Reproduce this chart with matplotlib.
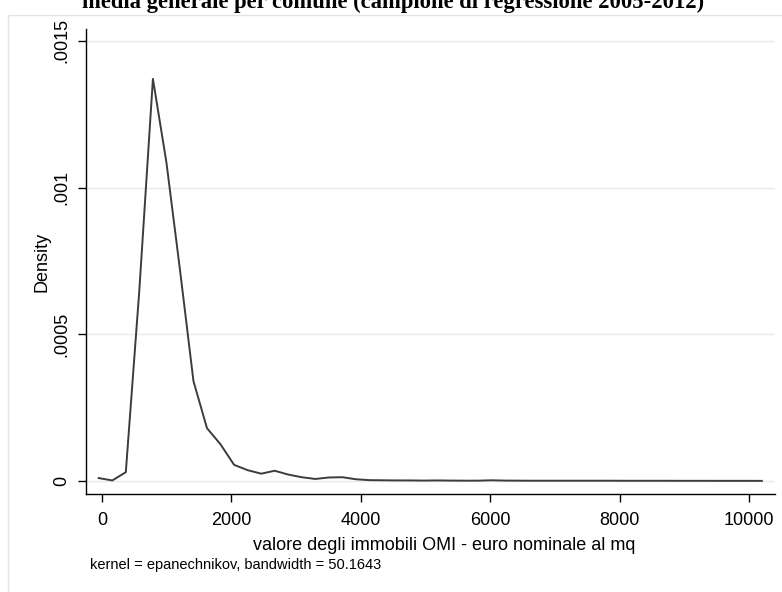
import matplotlib
matplotlib.use("Agg")
import matplotlib.pyplot as plt
from matplotlib.patches import Rectangle

plt.rcParams['font.family'] = ['Liberation Sans', 'DejaVu Sans']

# punti della stima kernel (50 punti, come kdensity)
valore = [-50, 159, 368, 577, 787, 996, 1205, 1414, 1623, 1832,
          2042, 2251, 2460, 2669, 2878, 3087, 3297, 3506, 3715, 3924,
          4133, 4342, 4552, 4761, 4970, 5179, 5388, 5597, 5807, 6016,
          6225, 6434, 6643, 6852, 7062, 7271, 7480, 7689, 7898, 8107,
          8317, 8526, 8735, 8944, 9153, 9362, 9572, 9781, 9990, 10199]
densita = [10e-6, 2e-6, 30e-6, 650e-6, 1370e-6, 1085e-6, 720e-6, 340e-6, 180e-6, 125e-6,
           55e-6, 37e-6, 25e-6, 35e-6, 22e-6, 13e-6, 7e-6, 12e-6, 13e-6, 6e-6,
           3e-6, 2.5e-6, 2e-6, 2e-6, 1.5e-6, 2e-6, 1.5e-6, 1.2e-6, 1.2e-6, 2.5e-6,
           1.5e-6, 1.2e-6, 1e-6, 1e-6, 1e-6, 1e-6, 1e-6, 1e-6, 1e-6, 0.8e-6,
           0.8e-6, 0.8e-6, 0.8e-6, 0.7e-6, 0.7e-6, 0.7e-6, 0.6e-6, 0.6e-6, 0.6e-6, 0.5e-6]

xticks = [0, 2000, 4000, 6000, 8000, 10000]
yticks = [0, 0.0005, 0.001, 0.0015]
ylabels = ['0', '.0005', '.001', '.0015']

fig = plt.figure(figsize=(7.82, 5.92), dpi=100)
fig.patches.append(Rectangle((8 / 782, -0.1), 1.2, 1 - 15 / 592 + 0.1,
                             transform=fig.transFigure, fill=False,
                             edgecolor='#e4e4e4', linewidth=1))

ax = fig.add_axes([0.110, 0.1655, 0.881, 0.7855])
ax.plot(valore, densita, color='#3c3c3c', linewidth=1.4)

ax.set_xlim(-247, 10402)
ax.set_ylim(-0.0000443, 0.00154)
ax.set_xticks(xticks)
ax.set_yticks(yticks)
ax.set_yticklabels(ylabels, rotation=90, va='center')
ax.tick_params(axis='both', labelsize=13, length=6, width=1, color='black')
ax.tick_params(axis='y', pad=5)
ax.tick_params(axis='x', pad=7)
ax.grid(axis='y', color='#eaeaea', linewidth=1)
ax.set_axisbelow(True)
for s in ['top', 'right']:
    ax.spines[s].set_visible(False)
ax.spines['left'].set_linewidth(1)
ax.spines['bottom'].set_linewidth(1)

ax.set_ylabel('Density', fontsize=13, labelpad=2)
ax.set_xlabel('valore degli immobili OMI - euro nominale al mq', fontsize=13, labelpad=4)
ax.xaxis.set_label_coords(0.52, -0.092)

fig.text(90 / 782, 1 - 565 / 592, 'kernel = epanechnikov, bandwidth = 50.1643',
         fontsize=10.5, va='center', ha='left')
fig.text(0.503, 1 - 8 / 592, 'media generale per comune (campione di regressione 2005-2012)',
         fontsize=16.3, fontweight='bold', family=['Liberation Serif', 'DejaVu Serif'],
         ha='center', va='baseline')

fig.savefig('out.png', dpi=100)
